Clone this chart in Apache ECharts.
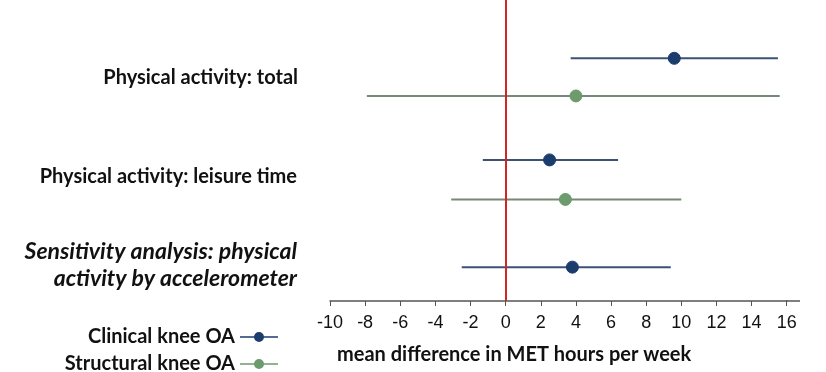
<!DOCTYPE html>
<html>
<head>
<meta charset="utf-8">
<script src="https://cdn.jsdelivr.net/npm/echarts@6/dist/echarts.min.js"></script>
<style>
html,body{margin:0;padding:0;background:#fff;}
#chart{width:826px;height:372px;}
</style>
</head>
<body>
<div id="chart"></div>
<script>
// ---- data ----
const categories = ['Physical activity: total', 'Physical activity: leisure time', 'Sensitivity analysis: physical', 'activity by accelerometer'];
const seriesNames = ['Clinical knee OA', 'Structural knee OA'];
const clinicalLow = [3.7, -1.3, -2.5];
const clinicalEst = [9.6, 2.5, 3.8];
const clinicalHigh = [15.5, 6.4, 9.4];
const structuralLow = [-7.9, -3.1, null];
const structuralEst = [4.0, 3.4, null];
const structuralHigh = [15.6, 10.0, null];
const clinicalRow = [1.55, 4.25, 7.1];
const structuralRow = [2.55, 5.3, null];
const xTickMin = -10, xTickMax = 16, xTickStep = 2;
const axisTitle = 'mean difference in MET hours per week';

const colors = { clinical: '#1d3c6e', clinicalLine: '#3b5274', structural: '#6c9b6c', structuralLine: '#788878' };

function buildData(lo, est, hi, row) {
  const out = [];
  for (let i = 0; i < est.length; i++) {
    if (est[i] == null) continue;
    out.push([lo[i], est[i], hi[i], row[i]]);
  }
  return out;
}

function makeRender(lineColor, dotColor) {
  return function (params, api) {
    const y = api.value(3);
    const a = api.coord([api.value(0), y]);
    const b = api.coord([api.value(2), y]);
    const c = api.coord([api.value(1), y]);
    return {
      type: 'group',
      children: [
        { type: 'line', shape: { x1: a[0], y1: a[1], x2: b[0], y2: b[1] }, style: { stroke: lineColor, lineWidth: 2 } },
        { type: 'circle', shape: { cx: c[0], cy: c[1], r: 6 }, style: { fill: dotColor, stroke: dotColor, lineWidth: 1 } }
      ]
    };
  };
}

const labelFont = 'Lato';
const iconPath = 'path://M0,5.3H38V6.7H0Z M19,1A5,5,0,1,1,18.99,1Z';
const legendText = { fontFamily: labelFont, fontWeight: 'bold', fontSize: 20, color: '#111' };

const chart = echarts.init(document.getElementById('chart'), null, { renderer: 'canvas' });
chart.setOption({
  animation: false,
  backgroundColor: '#ffffff',
  grid: { left: 330, right: 39.3, top: 0, bottom: 71 },
  xAxis: {
    type: 'value', min: xTickMin, max: xTickMax, interval: xTickStep,
    splitLine: { show: false },
    axisLine: { show: true, onZero: false, lineStyle: { color: '#555', width: 1.5 } },
    axisTick: { show: true, length: 5, lineStyle: { color: '#555' } },
    axisLabel: { color: '#111', fontFamily: 'Liberation Sans', fontSize: 18, margin: 13 }
  },
  yAxis: { type: 'value', inverse: true, min: 0, max: 8, show: false },
  legend: [
    { data: [seriesNames[0]], right: 543, top: 322, align: 'right', orient: 'vertical', icon: iconPath, itemWidth: 38, itemHeight: 11,
      textStyle: legendText, selectedMode: false },
    { data: [seriesNames[1]], right: 543, top: 349, align: 'right', orient: 'vertical', icon: iconPath, itemWidth: 38, itemHeight: 11,
      textStyle: legendText, selectedMode: false }
  ],
  series: [
    {
      name: seriesNames[0], type: 'custom', color: colors.clinical,
      renderItem: makeRender(colors.clinicalLine, colors.clinical),
      encode: { x: [0, 1, 2], y: 3 },
      data: buildData(clinicalLow, clinicalEst, clinicalHigh, clinicalRow),
      z: 3,
      markLine: {
        silent: true, symbol: 'none', label: { show: false },
        lineStyle: { color: '#d42424', width: 2, type: 'solid' },
        data: [{ xAxis: 0 }]
      }
    },
    {
      name: seriesNames[1], type: 'custom', color: colors.structural,
      renderItem: makeRender(colors.structuralLine, colors.structural),
      encode: { x: [0, 1, 2], y: 3 },
      data: buildData(structuralLow, structuralEst, structuralHigh, structuralRow),
      z: 3
    }
  ],
  graphic: [
    { type: 'text', x: 298, y: 78, style: { text: categories[0], font: 'bold 20px ' + labelFont, fill: '#111', align: 'right', verticalAlign: 'middle' } },
    { type: 'text', x: 297, y: 177, style: { text: categories[1], font: 'bold 20px ' + labelFont, fill: '#111', align: 'right', verticalAlign: 'middle' } },
    { type: 'text', x: 297, y: 252, style: { text: categories[2], font: 'italic bold 23px ' + labelFont, fill: '#111', align: 'right', verticalAlign: 'middle' } },
    { type: 'text', x: 297, y: 279, style: { text: categories[3], font: 'italic bold 23px ' + labelFont, fill: '#111', align: 'right', verticalAlign: 'middle' } },
    { type: 'text', x: 337, y: 355, style: { text: axisTitle, font: 'bold 20px ' + labelFont, fill: '#111', align: 'left', verticalAlign: 'middle' } },
    { type: 'line', shape: { x1: 786, y1: 301, x2: 800, y2: 301 }, style: { stroke: '#555', lineWidth: 1.5 } }
  ]
});
</script>
</body>
</html>
